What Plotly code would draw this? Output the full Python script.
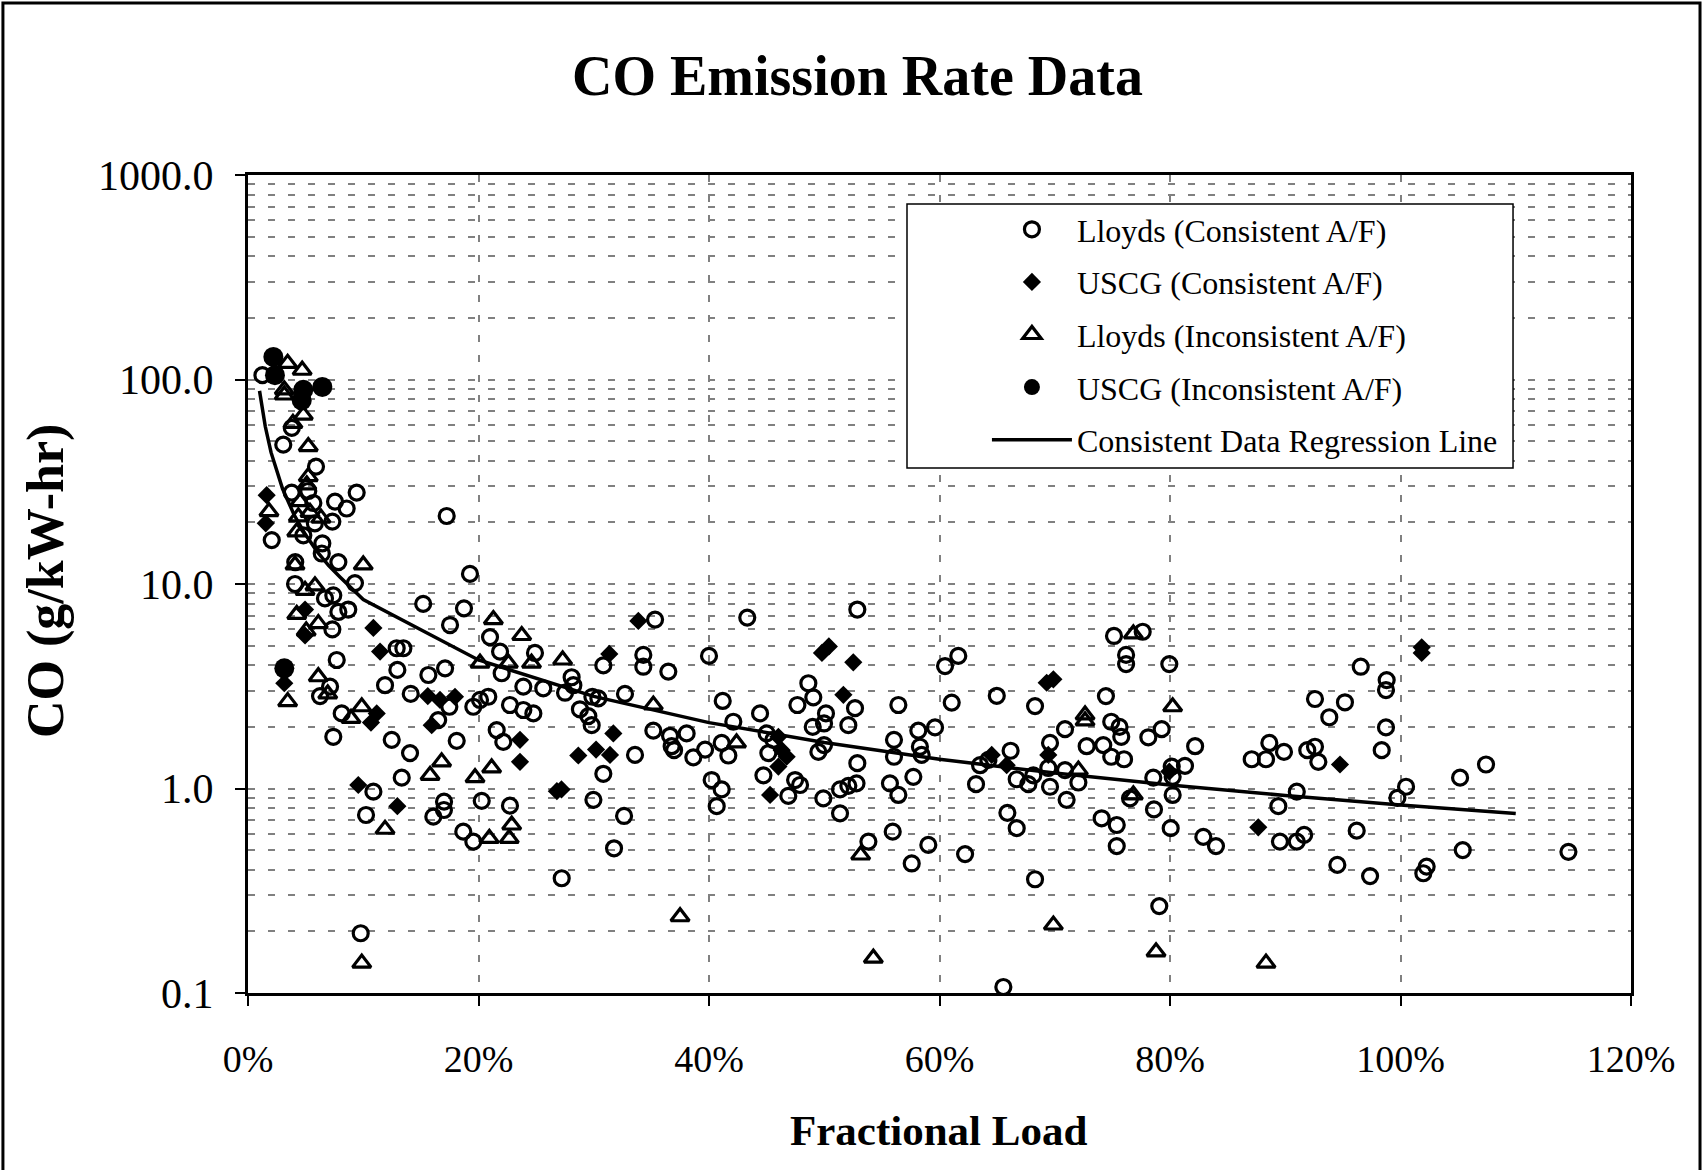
import plotly.graph_objects as go

# ---------------- data ----------------
lloyds_cons_x = [0.0125, 0.038, 0.0306, 0.059, 0.0379, 0.0523, 0.0943, 0.0567, 0.0755, 0.0856,
                 0.058, 0.0732, 0.048, 0.0206, 0.0645, 0.064, 0.1724, 0.1926, 0.0784, 0.041,
                 0.0928, 0.0408, 0.0668, 0.074, 0.087, 0.0784, 0.152, 0.0732, 0.129, 0.1348,
                 0.077, 0.1296, 0.1189, 0.1565, 0.171, 0.0712, 0.0625, 0.1412, 0.0813, 0.165,
                 0.074, 0.1247, 0.1406, 0.1334, 0.1088, 0.1874, 0.1753, 0.21, 0.2187, 0.249,
                 0.2201, 0.2389, 0.1747, 0.1955, 0.2013, 0.2085, 0.2273, 0.2389, 0.2476, 0.2158,
                 0.2215, 0.1811, 0.1024, 0.1701, 0.17, 0.1608, 0.2028, 0.2273, 0.1868, 0.1955,
                 0.0978, 0.3532, 0.4332, 0.5287, 0.3083, 0.343, 0.343, 0.3647, 0.40, 0.2808,
                 0.2823, 0.2562, 0.2751, 0.2988, 0.304, 0.3271, 0.288, 0.2953, 0.2982, 0.4119,
                 0.4211, 0.4443, 0.3358, 0.3517, 0.3662, 0.3676, 0.3806, 0.3697, 0.3864, 0.3966,
                 0.411, 0.4168, 0.3083, 0.2997, 0.3263, 0.3176, 0.2722, 0.4023, 0.411, 0.4067,
                 0.45, 0.4558, 0.4515, 0.4472, 0.4747, 0.479, 0.4688, 0.4767, 0.4862, 0.4905,
                 0.5015, 0.4998, 0.49, 0.4949, 0.4998, 0.5267, 0.5209, 0.5287, 0.528, 0.5209,
                 0.5137, 0.5137, 0.4992, 0.5383, 0.5594, 0.5759, 0.5643, 0.5605, 0.5605, 0.5773,
                 0.557, 0.5643, 0.5816, 0.5961, 0.583, 0.5845, 0.6048, 0.6163, 0.6106, 0.5903,
                 0.6222, 0.6317, 0.6352, 0.6424, 0.6617, 0.6497, 0.667, 0.6771, 0.6814, 0.6589,
                 0.667, 0.6829, 0.6554, 0.6829, 0.6959, 0.6944, 0.6959, 0.7089, 0.7103, 0.7089,
                 0.7277, 0.7205, 0.7444, 0.749, 0.7562, 0.7577, 0.7421, 0.749, 0.7601, 0.7514,
                 0.7763, 0.7619, 0.7619, 0.7994, 0.7812, 0.7928, 0.8218, 0.7855, 0.8015, 0.8023,
                 0.813, 0.8023, 0.7653, 0.7861, 0.8006, 0.7407, 0.7538, 0.7538, 0.7907, 0.8289,
                 0.8399, 0.8709, 0.8833, 0.8862, 0.8989, 0.894, 0.8954, 0.91, 0.91, 0.9191,
                 0.9258, 0.9287, 0.9164, 0.9452, 0.9258, 0.9518, 0.9382, 0.9655, 0.988, 0.9874,
                 0.9874, 0.9837, 1.0048, 0.9973, 0.962, 0.9736, 1.0227, 1.0198, 1.054, 1.0517,
                 1.0742, 1.1457]
lloyds_cons_y = [105, 58, 48, 37.5, 28, 28.5, 28, 24.9, 25.3, 23.4,
                 19.8, 20.2, 17.3, 16.4, 15.8, 14.1, 21.5, 11.2, 12.8, 12.8,
                 10.1, 10.0, 8.5, 8.8, 7.5, 7.3, 8.0, 6.0, 4.85, 4.85,
                 4.25, 3.8, 3.2, 3.59, 3.87, 3.15, 2.83, 2.9, 2.33, 2.16,
                 1.79, 1.73, 1.49, 1.13, 0.965, 7.6, 6.3, 5.5, 4.67, 4.6,
                 3.66, 3.15, 2.51, 2.51, 2.71, 2.81, 2.56, 2.42, 2.33, 1.93,
                 1.69, 1.71, 0.742, 0.862, 0.785, 0.728, 0.87, 0.824, 0.615, 0.55,
                 0.196, 6.7, 6.85, 7.5, 4.0, 4.5, 3.94, 3.73, 4.45, 3.5,
                 3.2, 3.09, 2.94, 2.81, 2.76, 2.9, 2.44, 2.26, 2.04, 2.68,
                 2.12, 2.33, 1.46, 1.92, 1.81, 1.61, 1.86, 1.54, 1.42, 1.55,
                 1.67, 1.45, 1.18, 0.88, 0.734, 0.51, 0.364, 1.10, 0.99, 0.82,
                 1.86, 1.73, 1.49, 1.16, 1.10, 1.04, 0.92, 2.56, 3.27, 2.79,
                 2.33, 2.08, 2.0, 1.51, 1.63, 2.47, 2.04, 1.33, 1.06, 1.03,
                 0.99, 0.756, 0.895, 0.55, 0.615, 0.43, 2.56, 1.73, 1.43, 1.14,
                 1.06, 0.93, 1.92, 1.99, 1.6, 1.46, 3.97, 4.45, 2.63, 0.53,
                 0.478, 1.05, 1.30, 1.38, 1.53, 2.84, 1.11, 1.05, 1.16, 0.76,
                 0.64, 0.36, 0.107, 2.53, 1.67, 1.26, 1.02, 1.23, 0.88, 1.95,
                 1.61, 1.07, 2.83, 2.12, 2.0, 1.79, 1.63, 1.43, 1.39, 5.57,
                 5.84, 4.5, 4.06, 4.06, 1.78, 1.95, 1.61, 1.13, 1.28, 1.14,
                 1.29, 0.93, 0.895, 0.79, 0.64, 0.715, 0.663, 0.523, 0.266, 0.58,
                 0.523, 1.39, 1.39, 1.67, 1.51, 0.82, 0.55, 0.55, 0.965, 1.54,
                 1.6, 1.35, 0.593, 0.423, 2.74, 2.64, 2.23, 3.94, 3.39, 3.03,
                 1.99, 1.54, 1.02, 0.9, 0.622, 0.373, 0.415, 0.385, 0.5, 1.13,
                 1.31, 0.49]

uscg_cons_x = [0.0162, 0.0154, 0.0495, 0.0495, 0.1088, 0.1146, 0.0315, 0.156, 0.1666, 0.1796,
               0.1117, 0.1067, 0.1594, 0.236, 0.236, 0.0957, 0.1296, 0.3387, 0.3135, 0.498,
               0.504, 0.5252, 0.317, 0.2866, 0.302, 0.3141, 0.268, 0.272, 0.4602, 0.4631,
               0.4674, 0.4602, 0.453, 0.5166, 0.6453, 0.6583, 0.693, 0.6988, 0.6944, 0.7994,
               0.8766, 0.9475, 1.0184, 1.0184]
uscg_cons_y = [27.2, 19.8, 7.5, 5.6, 6.1, 4.67, 3.27, 2.83, 2.71, 2.81,
               2.33, 2.1, 2.04, 1.73, 1.35, 1.04, 0.82, 6.6, 4.55, 4.6,
               4.95, 4.14, 1.86, 1.45, 1.55, 1.46, 0.97, 0.99, 1.79, 1.54,
               1.43, 1.28, 0.93, 2.87, 1.46, 1.30, 3.29, 3.42, 1.46, 1.21,
               0.646, 1.31, 4.9, 4.6]

lloyds_incons_x = [0.0344, 0.047, 0.0315, 0.0315, 0.048, 0.039, 0.0523, 0.0523, 0.051, 0.0182,
                   0.0451, 0.0437, 0.0538, 0.0633, 0.0423, 0.100, 0.0408, 0.0581, 0.0495, 0.0423,
                   0.061, 0.0505, 0.0344, 0.061, 0.0692, 0.0894, 0.0987, 0.2129, 0.2375, 0.2013,
                   0.2259, 0.246, 0.168, 0.158, 0.197, 0.2114, 0.1189, 0.2288, 0.2094, 0.2267,
                   0.0987, 0.273, 0.3517, 0.4239, 0.3749, 0.5426, 0.5316, 0.6988, 0.7263, 0.7263,
                   0.7205, 0.7682, 0.8023, 0.7682, 0.7879, 0.8833]
lloyds_incons_y = [120, 111, 89, 84, 67, 61, 47, 33.5, 30.5, 22.6,
                   25.3, 21.3, 22.4, 21, 18, 12.4, 12.4, 9.8, 9.3, 7.1,
                   6.4, 5.9, 2.66, 3.52, 2.9, 2.2, 2.51, 6.7, 5.6, 4.1,
                   4.1, 4.1, 1.35, 1.16, 1.13, 1.26, 0.632, 0.663, 0.57, 0.57,
                   0.14, 4.25, 2.56, 1.67, 0.236, 0.148, 0.473, 0.215, 2.29, 2.14,
                   1.23, 5.7, 2.51, 0.93, 0.159, 0.14]

uscg_incons_x = [0.022, 0.0234, 0.048, 0.0466, 0.0645, 0.0315]
uscg_incons_y = [129, 105, 89, 79, 92, 3.87]

regression_x = [0.01, 0.015, 0.02, 0.03, 0.04, 0.05, 0.06, 0.07, 0.08, 0.09, 0.1,
                0.2, 0.3, 0.4, 0.5, 0.6, 0.7, 0.8, 0.9, 1.0, 1.1]
regression_y = [88, 58.9, 44.0, 29.2, 21.8, 17.4, 14.4, 12.3, 10.8, 9.56, 8.4,
                4.25, 2.82, 2.10, 1.68, 1.39, 1.19, 1.04, 0.924, 0.83, 0.754]

x_tickvals = [0, 0.2, 0.4, 0.6, 0.8, 1.0, 1.2]
x_ticktext = ["0%", "20%", "40%", "60%", "80%", "100%", "120%"]
y_tickvals = [0.1, 1, 10, 100, 1000]
y_ticktext = ["0.1", "1.0", "10.0", "100.0", "1000.0"]
y_minor_vals = [m * d for d in (0.1, 1, 10, 100) for m in range(2, 10)]

FONT = "Liberation Serif"
GRID = "#808080"
DASH = "7px,13px"
CLEAR = "rgba(0,0,0,0)"

fig = go.Figure()

fig.add_trace(go.Scatter(
    x=lloyds_cons_x, y=lloyds_cons_y, mode="markers", name="Lloyds (Consistent A/F)",
    legendgroup="a",
    marker=dict(symbol="circle", size=15, color=CLEAR, line=dict(width=3.2, color="black"))))
fig.add_trace(go.Scatter(
    x=uscg_cons_x, y=uscg_cons_y, mode="markers", name="USCG (Consistent A/F)",
    legendgroup="b",
    marker=dict(symbol="diamond", size=14, color="black", line=dict(width=0))))
fig.add_trace(go.Scatter(
    x=lloyds_incons_x, y=lloyds_incons_y, mode="markers", name="Lloyds (Inconsistent A/F)",
    legendgroup="c",
    marker=dict(symbol="triangle-up", size=16, color=CLEAR, line=dict(width=3.2, color="black"))))
fig.add_trace(go.Scatter(
    x=uscg_incons_x, y=uscg_incons_y, mode="markers", name="USCG (Inconsistent A/F)",
    legendgroup="d",
    marker=dict(symbol="circle", size=20, color="black", line=dict(width=0))))
fig.add_trace(go.Scatter(
    x=regression_x, y=regression_y, mode="lines", name="Consistent Data Regression Line",
    legendgroup="e",
    line=dict(color="black", width=3.5)))

fig.update_layout(
    width=1703, height=1170,
    margin=dict(l=248, r=72, t=175, b=177),
    paper_bgcolor="white", plot_bgcolor="white",
    font=dict(family=FONT, color="black"),
    showlegend=True,
    legend=dict(
        x=0.5343, y=0.9670, xanchor="left", yanchor="top",
        bgcolor="rgba(0,0,0,0)", borderwidth=0,
        font=dict(family=FONT, size=32, color="black"),
        itemwidth=80, tracegroupgap=8, traceorder="grouped",
    ),
    xaxis=dict(
        range=[0, 1.2], tickvals=x_tickvals, ticktext=x_ticktext,
        showgrid=True, gridcolor=GRID, gridwidth=1.5, griddash=DASH,
        showline=True, linecolor="black", linewidth=3, mirror=True,
        ticks="outside", ticklen=10, tickwidth=1.5, tickcolor="black",
        zeroline=False, ticklabelstandoff=20,
        tickfont=dict(family=FONT, size=38, color="black"),
    ),
    yaxis=dict(
        type="log", range=[-1, 3], tickvals=y_tickvals, ticktext=y_ticktext,
        showgrid=True, gridcolor=GRID, gridwidth=1.5, griddash=DASH,
        minor=dict(tickvals=y_minor_vals, showgrid=True, gridcolor=GRID,
                   gridwidth=1.5, griddash=DASH, ticks=""),
        showline=True, linecolor="black", linewidth=3, mirror=True,
        ticks="outside", ticklen=10, tickwidth=1.5, tickcolor="black",
        zeroline=False, ticklabelstandoff=13,
        tickfont=dict(family=FONT, size=42, color="black"),
    ),
    annotations=[
        dict(text="<b>CO Emission Rate Data</b>", xref="paper", yref="paper",
             x=0.441, y=1.1210, xanchor="center", yanchor="middle", showarrow=False,
             font=dict(family=FONT, size=56, color="black")),
        dict(text="<b>Fractional Load</b>", xref="paper", yref="paper",
             x=0.499, y=-0.1687, xanchor="center", yanchor="middle", showarrow=False,
             font=dict(family=FONT, size=43, color="black")),
        dict(text="<b>CO (g/kW-hr)</b>", xref="paper", yref="paper",
             x=-0.1460, y=0.5037, xanchor="center", yanchor="middle", showarrow=False,
             textangle=-90, font=dict(family=FONT, size=52, color="black")),
    ],
    shapes=[
        # legend box
        dict(type="rect", xref="paper", yref="paper", x0=0.4765, x1=0.9147, y0=0.6418, y1=0.9645,
             fillcolor="white", line=dict(color="black", width=1.5), layer="above"),
        # outer chart border
        dict(type="rect", xref="paper", yref="paper", x0=-0.1772, x1=1.0499, y0=-0.253, y1=1.2103,
             fillcolor="rgba(0,0,0,0)", line=dict(color="black", width=3), layer="below"),
    ],
)

fig.write_html("out.html")
